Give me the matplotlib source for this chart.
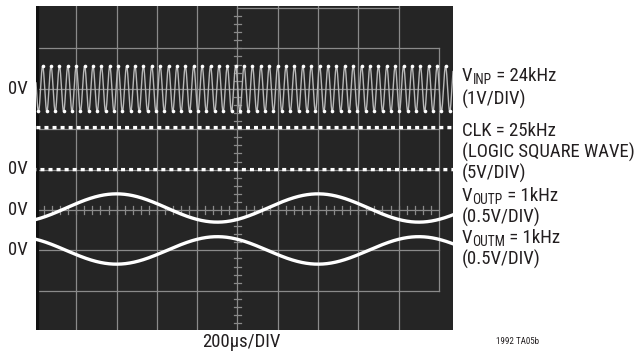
import numpy as np
import matplotlib
matplotlib.use("Agg")
import matplotlib.pyplot as plt
from matplotlib import font_manager
from matplotlib.font_manager import FontProperties

# ---------------- data ----------------
time_per_div_us = 200.0          # 200us/DIV
screen_width_div = 10.35         # visible horizontal span in divisions

# VINP: 24kHz sine, 1V/DIV
vinp_freq_khz = 24.0
vinp_amp_v = 0.56
vinp_volts_per_div = 1.0
vinp_zero_div = 2.0
vinp_peak_time_us = 33.0

# CLK: 25kHz logic square wave, 5V/DIV
clk_freq_khz = 25.0
clk_levels_v = [0.0, 5.2]
clk_volts_per_div = 5.0
clk_zero_div = 0.0
clk_start_us = 2.0

# VOUTP: 1kHz sine, 0.5V/DIV
voutp_freq_khz = 1.0
voutp_amp_v = 0.175
voutp_volts_per_div = 0.5
voutp_zero_div = -0.95
voutp_peak_time_us = 400.0

# VOUTM: 1kHz sine (inverted), 0.5V/DIV
voutm_freq_khz = 1.0
voutm_amp_v = -0.17
voutm_volts_per_div = 0.5
voutm_zero_div = -2.0
voutm_peak_time_us = 400.0

zero_labels_div = [2.0, 0.0, -1.0, -2.0]
zero_label_text = "0V"
# (main, subscript, rest, y-pixel)
right_labels = [
    ("V", "INP", " = 24kHz", 74),
    ("(1V/DIV)", "", "", 97),
    ("CLK = 25kHz", "", "", 129),
    ("(LOGIC SQUARE WAVE)", "", "", 150),
    ("(5V/DIV)", "", "", 171),
    ("V", "OUTP", " = 1kHz", 194),
    ("(0.5V/DIV)", "", "", 215),
    ("V", "OUTM", " = 1kHz", 236),
    ("(0.5V/DIV)", "", "", 257),
]
xlabel_text = "200\u00b5s/DIV"
figure_id_text = "1992 TA05b"

# ---------------- fonts ----------------
def pick_font():
    narrow = []
    for f in font_manager.fontManager.ttflist:
        nm = f.name
        st = str(f.stretch)
        if f.style != "normal":
            continue
        if f.weight not in (400, "normal", "regular"):
            continue
        if ("Narrow" in nm or "Condensed" in nm or st in ("condensed", "semi-condensed")) \
                and "Mono" not in nm and "Serif" not in nm:
            narrow.append(f)
    pref = ["Liberation Sans Narrow", "Roboto Condensed", "Open Sans Condensed",
            "DejaVu Sans Condensed", "DejaVu Sans"]
    for p in pref:
        for f in narrow:
            if f.name == p:
                return FontProperties(fname=f.fname), True
    if narrow:
        return FontProperties(fname=narrow[0].fname), True
    return FontProperties(family=["Liberation Sans", "DejaVu Sans"]), False

base_fp, is_narrow = pick_font()

W, H = 639, 355
fig = plt.figure(figsize=(W / 100, H / 100), dpi=100)
fig.patch.set_facecolor("white")
renderer = fig.canvas.get_renderer()

def fp_size(sz):
    p = base_fp.copy()
    p.set_size(sz)
    return p

# choose a size so that the widest label fits like in the reference (~176 px)
fs = 13.5
probe = fig.text(0, 0, "(LOGIC SQUARE WAVE)", fontproperties=fp_size(fs))
wpx = probe.get_window_extent(renderer).width
probe.remove()
if wpx > 176:
    fs = fs * 176 / wpx

# screen axes: x 36..453 px, y 6..330 px
ax = fig.add_axes([36 / W, (H - 330) / H, (453 - 36) / W, (330 - 6) / H])
ax.set_facecolor("#252525")
ax.set_xlim(0, screen_width_div)
ax.set_ylim(-3.97, 4.05)
for s in ax.spines.values():
    s.set_visible(False)
ax.set_xticks([])
ax.set_yticks([])

gcol = "#8a8a8a"
glw = 0.9
for xd in range(1, 10):
    ax.plot([xd, xd], [-3.97, 4.05], color=gcol, lw=glw, zorder=1)
ax.plot([10, 10], [-3, 3], color=gcol, lw=glw, zorder=1)
for yd in range(-3, 4):
    ax.plot([0, 10], [yd, yd], color=gcol, lw=glw, zorder=1)
ax.plot([5, 9], [4.0, 4.0], color=gcol, lw=glw, zorder=1)
ax.plot([0.03, 0.03], [-3.97, 4.05], color="#111111", lw=3, zorder=1)
for yt in np.arange(-3.8, 4.0, 0.2):
    ax.plot([4.91, 5.09], [yt, yt], color=gcol, lw=glw, zorder=1)
for xt in np.arange(0.2, 10.0, 0.2):
    ax.plot([xt, xt], [-1.1, -0.9], color=gcol, lw=glw, zorder=1)

# ---------------- traces ----------------
t_us = np.linspace(0, screen_width_div * time_per_div_us, 20000)
x_div = t_us / time_per_div_us

vinp = vinp_amp_v * np.cos(2 * np.pi * vinp_freq_khz * 1e-3 * (t_us - vinp_peak_time_us))
ax.plot(x_div, vinp_zero_div + vinp / vinp_volts_per_div, color="#b8b8b8", lw=1.0, zorder=3)
period_us = 1e3 / vinp_freq_khz
pk = np.arange(vinp_peak_time_us - period_us * 2, t_us[-1], period_us / 2)
pk = pk[(pk >= 0) & (pk <= t_us[-1])]
pv = vinp_amp_v * np.cos(2 * np.pi * vinp_freq_khz * 1e-3 * (pk - vinp_peak_time_us))
ax.plot(pk / time_per_div_us, vinp_zero_div + pv / vinp_volts_per_div, "o",
        ms=2.6, color="white", mec="none", zorder=4)

phase = ((t_us - clk_start_us) * clk_freq_khz * 1e-3) % 1.0
clk_high = phase < 0.5
hi = np.where(clk_high, clk_zero_div + clk_levels_v[1] / clk_volts_per_div, np.nan)
lo = np.where(~clk_high, clk_zero_div + clk_levels_v[0] / clk_volts_per_div, np.nan)
ax.plot(x_div, hi, color="white", lw=2.4, solid_capstyle="butt", zorder=3)
ax.plot(x_div, lo, color="white", lw=2.4, solid_capstyle="butt", zorder=3)

voutp = voutp_amp_v * np.cos(2 * np.pi * voutp_freq_khz * 1e-3 * (t_us - voutp_peak_time_us))
ax.plot(x_div, voutp_zero_div + voutp / voutp_volts_per_div, color="white", lw=2.4, zorder=3)
voutm = voutm_amp_v * np.cos(2 * np.pi * voutm_freq_khz * 1e-3 * (t_us - voutm_peak_time_us))
ax.plot(x_div, voutm_zero_div + voutm / voutm_volts_per_div, color="white", lw=2.4, zorder=3)

# ---------------- text ----------------
tcol = "#231f20"
fpm = fp_size(fs)
fps = fp_size(fs * 0.72)

for yd in zero_labels_div:
    py = 169.5 - yd * 40.4
    fig.text(28 / W, 1 - py / H, zero_label_text, ha="right", va="center",
             fontproperties=fpm, color=tcol)

for main, sub, rest, py in right_labels:
    x = 462
    t1 = fig.text(x / W, 1 - py / H, main, ha="left", va="center_baseline",
                  fontproperties=fpm, color=tcol)
    if sub:
        x += t1.get_window_extent(renderer).width
        t2 = fig.text(x / W, 1 - (py + 4.5) / H, sub, ha="left", va="center_baseline",
                      fontproperties=fps, color=tcol)
        x += t2.get_window_extent(renderer).width
        fig.text(x / W, 1 - py / H, rest, ha="left", va="center_baseline",
                 fontproperties=fpm, color=tcol)

fig.text(241 / W, 1 - 342 / H, xlabel_text, ha="center", va="center",
         fontproperties=fpm, color=tcol)
fig.text(518 / W, 1 - 342 / H, figure_id_text, ha="center", va="center",
         fontproperties=fp_size(6.5), color=tcol)

fig.savefig("out.png", dpi=100, facecolor="white")
